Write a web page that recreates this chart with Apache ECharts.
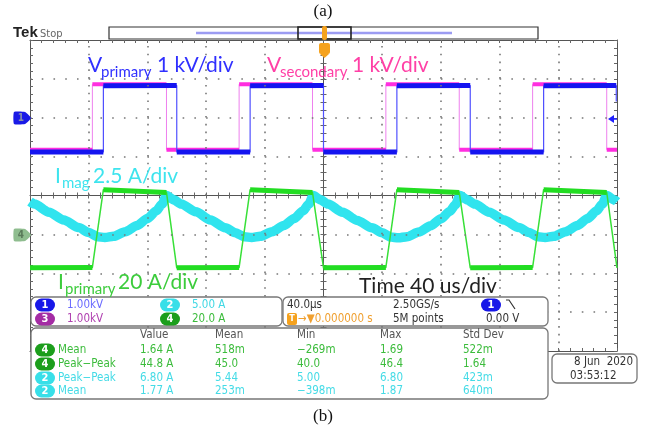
<!DOCTYPE html>
<html><head><meta charset="utf-8">
<script src="https://cdn.jsdelivr.net/npm/echarts@6/dist/echarts.min.js"></script>
<style>html,body{margin:0;padding:0;background:#fff}#c{width:646px;height:431px}</style>
</head><body><div id="c"></div>
<script>
// ---- data (time in microseconds) ----
// CH1 V_primary (kV), 1 kV/div, offset +2 div
const ch1Time  = [-200,-150,-150,-100,-100,-50,-50,0,0,50,50,100,100,150,150,199.5,199.5];
const ch1Volts = [-0.88,-0.88,0.82,0.83,-0.88,-0.88,0.82,0.83,-0.88,-0.88,0.82,0.83,-0.88,-0.88,0.82,0.83,0.42];
// CH3 V_secondary (kV), 1 kV/div, offset +2 div
const ch3Time  = [-200,-157.5,-157.5,-107,-107,-57.5,-57.5,-7.5,-7.5,42.5,42.5,92.5,92.5,142.5,142.5,193,193,200];
const ch3Volts = [-0.82,-0.82,0.86,0.86,-0.82,-0.82,0.86,0.86,-0.82,-0.82,0.86,0.86,-0.82,-0.82,0.86,0.86,-0.82,-0.82];
// CH2 I_mag (A), 5 A/div, offset -1 div
const ch2Time = [-200,-197,-187,-177,-167,-160,-154,-149,-143,-135,-127,-120,-114,-110,-107,
                 -102,-97,-87,-77,-67,-60,-54,-49,-43,-35,-27,-20,-14,-10,-7,
                 -2,3,13,23,33,40,46,51,57,65,73,80,86,90,93,
                 98,103,113,123,133,140,146,151,157,165,173,180,186,190,193,198,200];
const ch2Amps = [4.2,3.9,2.85,1.85,0.9,0.25,-0.3,-0.4,-0.25,0.35,1.15,2.05,3.0,3.9,5.0,
                 4.45,3.9,2.9,1.85,0.85,0.2,-0.3,-0.4,-0.25,0.35,1.15,2.05,3.0,3.9,5.0,
                 4.45,3.9,2.85,1.8,0.85,0.2,-0.35,-0.45,-0.3,0.3,1.1,2.0,2.95,3.85,5.0,
                 4.45,3.9,2.85,1.85,0.9,0.25,-0.3,-0.4,-0.25,0.35,1.15,2.05,3.0,3.9,5.0,4.45,4.2];
// CH4 I_primary (A), 20 A/div, offset -1 div
const ch4Time = [-200,-157.5,-150,-107,-100,-57.5,-50,-7.5,0,42.5,50,92.5,100,142.5,150,193,200];
const ch4Amps = [-17.2,-17.0,23.0,21.6,-17.2,-17.0,23.0,21.6,-17.2,-17.0,23.0,21.6,-17.2,-17.0,23.0,21.6,-17.2];

// graticule division positions
const graticuleTimes = [-160,-120,-80,-40,40,80,120,160];
const graticuleDivs  = [-3,-2,-1,1,2,3];

const channelScale  = {ch1: 1, ch2: 5, ch3: 1, ch4: 20};
const channelOffset = {ch1: 2, ch2: -1, ch3: 2, ch4: -1};

const chanSettingsRow1 = ['1.00kV', '5.00 A'];
const chanSettingsRow2 = ['1.00kV', '20.0 A'];
const measHeaders = ['Value', 'Mean', 'Min', 'Max', 'Std Dev'];
const measChannels = ['4', '4', '2', '2'];
const measNames = ['Mean', 'Peak\u2212Peak', 'Peak\u2212Peak', 'Mean'];
const measValues = [
  ['1.64 A', '518m', '\u2212269m', '1.69', '522m'],
  ['44.8 A', '45.0', '40.0', '46.4', '1.64'],
  ['6.80 A', '5.44', '5.00', '6.80', '423m'],
  ['1.77 A', '253m', '\u2212398m', '1.87', '640m']
];
const timebaseText = ['40.0\u00b5s', '2.50GS/s', '5M points', '0.00 V'];
const dateText = ['8 Jun  2020', '03:53:12'];

// ---- build ----
function toDiv(ts, vs, ch) {
  return ts.map((t, i) => [t, vs[i] / channelScale[ch] + channelOffset[ch]]);
}
function flatParts(pts, thr) {
  const out = [];
  for (let i = 0; i < pts.length - 1; i++) {
    const a = pts[i], b = pts[i + 1];
    if (b[0] !== a[0] && Math.abs(b[1] - a[1]) < thr) {
      out.push(a, b, [b[0], null]);
    }
  }
  return out;
}
const d1 = toDiv(ch1Time, ch1Volts, 'ch1');
const d3 = toDiv(ch3Time, ch3Volts, 'ch3');
const d2 = toDiv(ch2Time, ch2Amps, 'ch2');
const d4 = toDiv(ch4Time, ch4Amps, 'ch4');

const BLUE = '#1414f0', MAG = '#ff2ee0', CYAN = '#30e4ee', GREEN = '#22dd22';
const UI = '"DejaVu Sans Condensed","DejaVu Sans",sans-serif';
const LAB = 'Lato,"Open Sans",sans-serif';

function line(name, data, color, width, extra) {
  return Object.assign({
    name, type: 'line', data, symbol: 'none', silent: true, animation: false,
    connectNulls: false, xAxisIndex: 0, yAxisIndex: 0,
    lineStyle: {color, width, join: 'round'}
  }, extra || {});
}

function txt(x, y, text, fill, font, align) {
  return {type: 'text', x, y, z: 100, silent: true,
    style: {text, fill, font, align: align || 'left', verticalAlign: 'middle',
            textAlign: align || 'left', textVerticalAlign: 'middle'}};
}
function pill(cx, cy, label, fill, w) {
  w = w || 20;
  return [
    {type: 'rect', z: 100, silent: true, shape: {x: cx - w / 2, y: cy - 6.5, width: w, height: 13, r: 6.5}, style: {fill}},
    txt(cx, cy, label, '#fff', 'bold 11px ' + UI, 'center')
  ];
}
function box(x, y, w, h) {
  return {type: 'rect', z: 99, silent: true, shape: {x, y, width: w, height: h, r: 5},
    style: {fill: '#fff', stroke: '#777', lineWidth: 1.3}};
}

const xBase = {type: 'value', min: -200, max: 200, interval: 40,
  axisLabel: {show: false}, splitLine: {show: false}};
const yBase = {type: 'value', min: -4, max: 4, interval: 1,
  axisLabel: {show: false}, splitLine: {show: false}};
const tickStyle = {color: '#666', width: 1};
function ax(base, extra) { return Object.assign({}, base, extra); }

const frameTicks = {
  axisTick: {show: true, inside: true, length: 3, lineStyle: tickStyle},
  minorTick: {show: true, splitNumber: 5, length: 3, lineStyle: tickStyle}
};

const dotV = {color: '#777', width: 1.6, type: [1.6, 6.18], dashOffset: 0};
const dotH = {color: '#777', width: 1.6, type: [1.6, 10.14], dashOffset: 0};
const graticule = {
  silent: true, symbol: 'none', animation: false, label: {show: false},
  emphasis: {disabled: true},
  data: graticuleTimes.map(t => ({xAxis: t, lineStyle: dotV}))
    .concat(graticuleDivs.map(v => ({yAxis: v, lineStyle: dotH})))
};

const option = {
  animation: false,
  backgroundColor: '#fff',
  grid: {left: 30, right: 29, top: 40, bottom: 80, show: false},
  xAxis: [
    ax(xBase, Object.assign({position: 'bottom', axisLine: {show: true, onZero: false, lineStyle: {color: '#555'}}}, frameTicks)),
    ax(xBase, Object.assign({position: 'top', axisLine: {show: true, onZero: false, lineStyle: {color: '#555'}}}, frameTicks)),
    ax(xBase, Object.assign({position: 'bottom', axisLine: {show: true, onZero: true, onZeroAxisIndex: 0, lineStyle: {color: '#555'}}}, frameTicks)),
    ax(xBase, Object.assign({position: 'top', axisLine: {show: false, onZero: true, onZeroAxisIndex: 0}}, frameTicks))
  ],
  yAxis: [
    ax(yBase, Object.assign({position: 'left', axisLine: {show: true, onZero: false, lineStyle: {color: '#555'}}}, frameTicks)),
    ax(yBase, Object.assign({position: 'right', axisLine: {show: true, onZero: false, lineStyle: {color: '#555'}}}, frameTicks)),
    ax(yBase, Object.assign({position: 'left', axisLine: {show: true, onZero: true, onZeroAxisIndex: 0, lineStyle: {color: '#555'}}}, frameTicks)),
    ax(yBase, Object.assign({position: 'right', axisLine: {show: false, onZero: true, onZeroAxisIndex: 0}}, frameTicks))
  ],
  series: [
    line('ch3 edges', d3, '#ee80ee', 1, {markLine: graticule, z: 1}),
    line('ch3', flatParts(d3, 0.3), MAG, 4),
    line('ch1 edges', d1, '#5050ff', 1.2),
    line('ch1', flatParts(d1, 0.3), BLUE, 5),
    line('ch2', d2, CYAN, 9.5, {smooth: 0.25, smoothMonotone: 'x'}),
    line('ch4 ramps', d4, '#38e038', 1.5),
    line('ch4', flatParts(d4, 0.3), GREEN, 5)
  ],
  graphic: []
};

const g = option.graphic;
// titles
g.push(txt(323, 12, '(a)', '#111', '17px "Liberation Serif",serif', 'center'));
g.push(txt(323, 417, '(b)', '#111', '17px "Liberation Serif",serif', 'center'));
// Tek header
g.push(txt(13, 33, 'Tek', '#222', 'bold 15px "Liberation Sans",sans-serif'));
g.push(txt(40, 34, 'Stop', '#666', '11px ' + UI));
g.push({type: 'rect', z: 100, silent: true, shape: {x: 109, y: 27, width: 429, height: 12}, style: {fill: '#fff', stroke: '#333', lineWidth: 1.2}});
g.push({type: 'line', z: 100, silent: true, shape: {x1: 196, y1: 33, x2: 452, y2: 33}, style: {stroke: '#9c9cf2', lineWidth: 2.5}});
g.push({type: 'rect', z: 100, silent: true, shape: {x: 298, y: 27, width: 53, height: 12}, style: {fill: 'none', stroke: '#222', lineWidth: 1.6}});
g.push({type: 'rect', z: 101, silent: true, shape: {x: 322, y: 26, width: 5, height: 14, r: 2}, style: {fill: '#f5a21e'}});
// trigger marker
g.push({type: 'rect', z: 101, silent: true, shape: {x: 319, y: 43, width: 11, height: 11, r: 2}, style: {fill: '#f5a21e'}});
g.push({type: 'polygon', z: 101, silent: true, shape: {points: [[320, 54], [329, 54], [324.5, 58]]}, style: {fill: '#f5a21e'}});
g.push(txt(324.5, 49, 'T', '#fff', 'bold 10px ' + UI, 'center'));
// channel markers
g.push({type: 'polygon', z: 100, silent: true, shape: {points: [[14, 112], [25, 112], [31, 118], [25, 124], [14, 124]], smooth: 0.15}, style: {fill: '#1a1ae6'}});
g.push(txt(21, 118, '1', '#8890aa', 'bold 10px ' + UI, 'center'));
g.push({type: 'polygon', z: 100, silent: true, shape: {points: [[14, 229], [25, 229], [31, 235], [25, 241], [14, 241]], smooth: 0.15}, style: {fill: '#8fbd8f'}});
g.push(txt(21, 235, '4', '#5a7a5a', 'bold 10px ' + UI, 'center'));
g.push({type: 'polygon', z: 100, silent: true, shape: {points: [[608, 119], [614, 115], [614, 123]]}, style: {fill: '#2020ff'}});
g.push({type: 'line', z: 100, silent: true, shape: {x1: 612, y1: 119, x2: 617, y2: 119}, style: {stroke: '#2020ff', lineWidth: 1.5}});
// trace labels
g.push(txt(88, 65, 'V', '#3030ff', '21px ' + LAB));
g.push(txt(101, 72, 'primary', '#3030ff', '15px ' + LAB));
g.push(txt(157, 65, '1 kV/div', '#3030ff', '21px ' + LAB));
g.push(txt(267, 65, 'V', '#ff40a6', '21px ' + LAB));
g.push(txt(280, 72, 'secondary', '#ff40a6', '15px ' + LAB));
g.push(txt(352, 65, '1 kV/div', '#ff40a6', '21px ' + LAB));
g.push(txt(55, 176, 'I', '#3ee4ee', '21px ' + LAB));
g.push(txt(62, 183, 'mag', '#3ee4ee', '15px ' + LAB));
g.push(txt(93, 176, '2.5 A/div', '#3ee4ee', '21px ' + LAB));
g.push(txt(58, 282, 'I', '#3ccc3c', '21px ' + LAB));
g.push(txt(65, 289, 'primary', '#3ccc3c', '15px ' + LAB));
g.push(txt(118, 282, '20 A/div', '#3ccc3c', '21px ' + LAB));
g.push(txt(359, 286, 'Time 40 us/div', '#222', '21px ' + LAB));
// channel settings box
g.push(box(31, 297, 251, 29));
g.push(...pill(45, 305, '1', '#1818e8'));
g.push(txt(67, 305, chanSettingsRow1[0], '#6a6aff', '11.5px ' + UI));
g.push(...pill(170, 305, '2', '#38dfe8'));
g.push(txt(192, 305, chanSettingsRow1[1], '#40d8e4', '11.5px ' + UI));
g.push(...pill(45, 319, '3', '#a42ca4'));
g.push(txt(67, 319, chanSettingsRow2[0], '#b040b0', '11.5px ' + UI));
g.push(...pill(170, 319, '4', '#1c9e1c'));
g.push(txt(192, 319, chanSettingsRow2[1], '#3cbc3c', '11.5px ' + UI));
// timebase box
g.push(box(283, 297, 265, 29));
g.push(txt(287, 305, timebaseText[0], '#333', '11.5px ' + UI));
g.push({type: 'rect', z: 100, silent: true, shape: {x: 287, y: 313, width: 10, height: 12, r: 2}, style: {fill: '#f5a21e'}});
g.push(txt(292, 319, 'T', '#fff', 'bold 9px ' + UI, 'center'));
g.push(txt(298, 319, '\u2192\u25bc0.000000 s', '#f0a030', '11.5px ' + UI));
g.push(txt(393, 305, timebaseText[1], '#333', '11.5px ' + UI));
g.push(txt(393, 319, timebaseText[2], '#333', '11.5px ' + UI));
g.push(...pill(491, 305, '1', '#1818e8'));
g.push({type: 'polyline', z: 100, silent: true, shape: {points: [[506, 300], [509, 300], [515, 309]]}, style: {stroke: '#333', lineWidth: 1.2, fill: 'none'}});
g.push(txt(486, 319, timebaseText[3], '#333', '11.5px ' + UI));
// measurement box
g.push(box(31, 328, 517, 71));
const colX = [140, 215, 297, 380, 463];
const rowY = [350, 364, 378, 391];
measHeaders.forEach((h, i) => g.push(txt(colX[i], 335, h, '#555', '11.5px ' + UI)));
measValues.forEach((row, r) => {
  const green = measChannels[r] === '4';
  const pc = green ? '#1c9e1c' : '#38dfe8';
  const tc = green ? '#3cbc3c' : '#44dbe6';
  g.push(...pill(45, rowY[r], measChannels[r], pc));
  g.push(txt(58, rowY[r], measNames[r], tc, '11.5px ' + UI));
  row.forEach((v, i) => g.push(txt(colX[i], rowY[r], v, tc, '11.5px ' + UI)));
});
// date box
g.push(box(552, 354, 85, 29));
g.push(txt(633, 362, dateText[0], '#333', '11.5px ' + UI, 'right'));
g.push(txt(570, 376, dateText[1], '#333', '11.5px ' + UI));

const chart = echarts.init(document.getElementById('c'), null, {renderer: 'canvas'});
chart.setOption(option);
</script>
</body></html>
